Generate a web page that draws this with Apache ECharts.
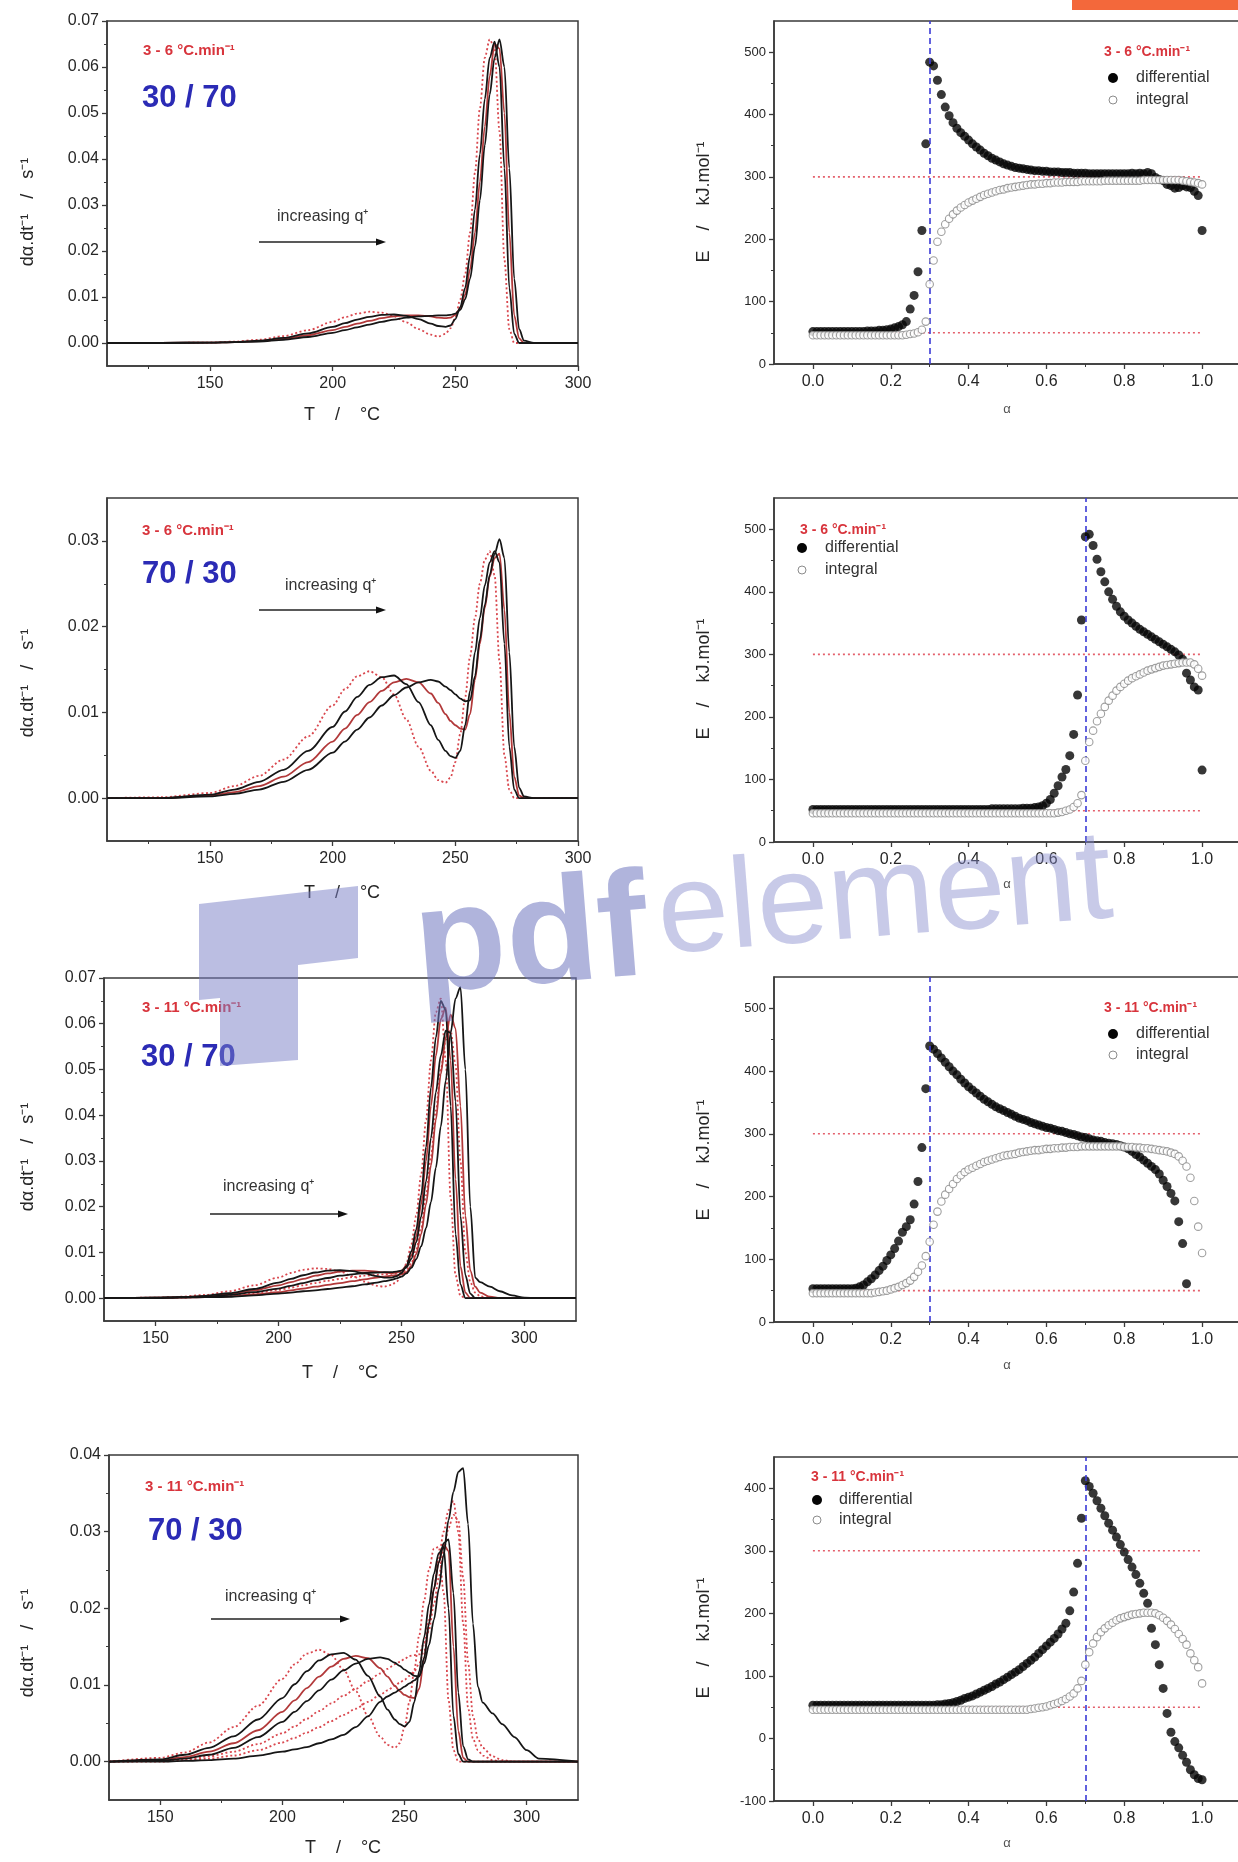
<!DOCTYPE html>
<html>
<head>
<meta charset="utf-8">
<title>DTG curves and activation energy</title>
<script src="https://cdn.jsdelivr.net/npm/echarts@6.0.0/dist/echarts.min.js"></script>
<style>
html,body{margin:0;padding:0;background:#ffffff;}
#chart{width:1238px;height:1862px;}
</style>
</head>
<body>
<div id="chart"></div>
<script>
// ================= DATA =================
// temperature sampling (°C) for the rate curves
const tempsA = [108,130,150,160,170,180,190,200,205,210,215,220,225,230,235,240,243,246,248,250,252,254,256,258,260,262,264,266,268,270,272,274,276,278,282,290,300];
const tempsB = [129,150,160,170,180,190,200,205,210,215,220,225,230,235,240,243,246,248,250,252,254,256,258,260,262,264,266,268,270,272,274,276,278,280,282,286,290,295,300,305,321];

// Panel 1 : 30/70, 3-6 °C/min  (dα/dt, s^-1)
const p1_q3 = [0,0,0.0001,0.0003,0.0007,0.0015,0.0028,0.0046,0.0056,0.0064,0.0068,0.0066,0.0058,0.0045,0.003,0.0018,0.0014,0.002,0.0032,0.0055,0.0095,0.015,0.024,0.037,0.051,0.062,0.066,0.064,0.046,0.018,0.003,0,0,0,0,0,0];
const p1_q4 = [0,0,0.0001,0.0002,0.0005,0.0011,0.0021,0.0035,0.0043,0.0051,0.0057,0.0061,0.0062,0.0059,0.0052,0.0042,0.0037,0.0035,0.0038,0.0052,0.0078,0.012,0.019,0.029,0.041,0.053,0.062,0.0655,0.06,0.038,0.012,0.002,0,0,0,0,0];
const p1_q5 = [0,0,0.0001,0.0002,0.0004,0.0009,0.0017,0.0028,0.0035,0.0042,0.0048,0.0054,0.0058,0.006,0.006,0.0058,0.0055,0.0054,0.0055,0.0061,0.0075,0.0105,0.016,0.024,0.035,0.047,0.058,0.065,0.064,0.05,0.024,0.006,0.001,0,0,0,0];
const p1_q6 = [0,0,0.0001,0.0002,0.0003,0.0007,0.0013,0.0022,0.0028,0.0034,0.004,0.0046,0.0051,0.0055,0.0058,0.0059,0.006,0.006,0.0061,0.0064,0.0072,0.0095,0.014,0.021,0.031,0.043,0.054,0.062,0.066,0.06,0.038,0.014,0.003,0.0005,0,0,0];

// Panel 2 : 70/30, 3-6 °C/min
const p2_q3 = [0,0.0001,0.0006,0.0014,0.0026,0.0045,0.0072,0.0108,0.0127,0.0142,0.0148,0.0141,0.0121,0.0092,0.006,0.0032,0.0021,0.0018,0.0024,0.0042,0.0075,0.0118,0.0165,0.021,0.025,0.0278,0.0288,0.026,0.016,0.005,0.001,0,0,0,0,0,0];
const p2_q4 = [0,0,0.0004,0.001,0.0019,0.0033,0.0055,0.0083,0.0101,0.0118,0.0132,0.0141,0.0143,0.0133,0.0112,0.0085,0.0068,0.0055,0.0049,0.0047,0.0055,0.0085,0.0125,0.017,0.021,0.0248,0.0275,0.0288,0.0275,0.018,0.006,0.001,0,0,0,0,0];
const p2_q5 = [0,0,0.0003,0.0007,0.0014,0.0025,0.0042,0.0066,0.0081,0.0097,0.0112,0.0125,0.0135,0.0139,0.0135,0.0122,0.0111,0.0098,0.009,0.0085,0.0081,0.008,0.0098,0.0138,0.018,0.0222,0.0258,0.028,0.0285,0.022,0.01,0.0025,0.0003,0,0,0,0];
const p2_q6 = [0,0,0.0002,0.0005,0.001,0.0019,0.0033,0.0053,0.0066,0.008,0.0094,0.0108,0.012,0.0129,0.0135,0.0138,0.0136,0.013,0.0126,0.0121,0.0116,0.0113,0.0114,0.0142,0.0185,0.0225,0.026,0.0285,0.0302,0.028,0.017,0.006,0.0012,0.0002,0,0,0];

// Panel 3 : 30/70, 3-11 °C/min
const p3_q3 = [0,0.0001,0.0003,0.0007,0.0015,0.0028,0.0045,0.0055,0.0062,0.0065,0.0064,0.0058,0.0048,0.0036,0.0027,0.0025,0.0029,0.0036,0.005,0.0075,0.0118,0.018,0.027,0.039,0.052,0.0625,0.0655,0.052,0.022,0.005,0.0005,0,0,0,0,0,0,0,0,0,0];
const p3_q4 = [0,0.0001,0.0002,0.0005,0.0011,0.002,0.0034,0.0042,0.005,0.0056,0.006,0.0061,0.0059,0.0054,0.0048,0.0045,0.0045,0.0048,0.0055,0.007,0.0102,0.015,0.0225,0.033,0.046,0.057,0.065,0.063,0.042,0.014,0.003,0,0,0,0,0,0,0,0,0,0];
const p3_q5 = [0,0.0001,0.0002,0.0004,0.0009,0.0017,0.0028,0.0035,0.0042,0.0049,0.0054,0.0058,0.006,0.006,0.0058,0.0056,0.0055,0.0056,0.006,0.0071,0.0093,0.0135,0.0205,0.03,0.042,0.053,0.061,0.0635,0.052,0.026,0.007,0.0012,0,0,0,0,0,0,0,0,0];
const p3_q6 = [0,0.0001,0.0002,0.0003,0.0007,0.0013,0.0021,0.0027,0.0033,0.0039,0.0044,0.0049,0.0052,0.0055,0.0056,0.0057,0.0057,0.0058,0.006,0.0067,0.0086,0.0122,0.0178,0.0255,0.035,0.045,0.053,0.0585,0.058,0.043,0.018,0.005,0.001,0,0,0,0,0,0,0,0];
const p3_q8 = [0,0,0.0001,0.0003,0.0006,0.0011,0.0018,0.0023,0.0028,0.0033,0.0038,0.0042,0.0046,0.0049,0.0051,0.0052,0.0053,0.0054,0.0056,0.0061,0.0076,0.0106,0.0155,0.0225,0.031,0.041,0.05,0.0565,0.0585,0.051,0.03,0.01,0.0035,0.0012,0.0004,0,0,0,0,0,0];
const p3_q10 = [0,0,0.0001,0.0002,0.0004,0.0008,0.0013,0.0017,0.0021,0.0025,0.0029,0.0033,0.0037,0.0041,0.0045,0.0047,0.0049,0.005,0.0052,0.0057,0.007,0.0096,0.014,0.0205,0.029,0.039,0.049,0.057,0.062,0.059,0.042,0.018,0.006,0.0025,0.0012,0.0003,0,0,0,0,0];
const p3_q11 = [0,0,0.0001,0.0002,0.0003,0.0006,0.001,0.0012,0.0015,0.0017,0.002,0.0023,0.0026,0.003,0.0034,0.0037,0.004,0.0043,0.0047,0.0054,0.0066,0.0085,0.0113,0.0153,0.021,0.0285,0.0375,0.0475,0.058,0.0655,0.068,0.05,0.02,0.0045,0.0035,0.0025,0.0015,0.0006,0.0001,0,0];

// Panel 4 : 70/30, 3-11 °C/min
const p4_q3 = [0,0.0005,0.0012,0.0025,0.0045,0.0073,0.0108,0.0127,0.0141,0.0146,0.0139,0.012,0.0092,0.006,0.0033,0.0022,0.0018,0.0024,0.0045,0.0078,0.012,0.0165,0.021,0.025,0.0278,0.028,0.022,0.008,0.0015,0,0,0,0,0,0,0,0,0,0,0,0];
const p4_q4 = [0,0.0003,0.0009,0.0018,0.0033,0.0055,0.0083,0.0101,0.0118,0.0132,0.014,0.0142,0.0133,0.0112,0.0085,0.0068,0.0055,0.0049,0.0046,0.0052,0.0078,0.0118,0.0162,0.0205,0.0245,0.0272,0.028,0.02,0.006,0.001,0,0,0,0,0,0,0,0,0,0,0];
const p4_q5 = [0,0.0002,0.0006,0.0013,0.0024,0.0041,0.0065,0.008,0.0096,0.0111,0.0124,0.0134,0.0138,0.0135,0.0122,0.0111,0.0099,0.0092,0.0087,0.0084,0.0083,0.0095,0.0135,0.018,0.0225,0.026,0.0283,0.0275,0.015,0.004,0.0005,0,0,0,0,0,0,0,0,0,0];
const p4_q6 = [0,0.0001,0.0004,0.0009,0.0018,0.0032,0.0052,0.0065,0.0079,0.0093,0.0107,0.0119,0.0128,0.0134,0.0136,0.0134,0.0129,0.0125,0.012,0.0116,0.0112,0.0111,0.0135,0.018,0.0225,0.026,0.0285,0.029,0.022,0.009,0.002,0.0003,0,0,0,0,0,0,0,0,0];
const p4_q8 = [0,0.0001,0.0003,0.0007,0.0013,0.0023,0.0037,0.0046,0.0056,0.0066,0.0076,0.0086,0.0095,0.0105,0.0115,0.0121,0.0127,0.013,0.0134,0.0138,0.0139,0.014,0.0155,0.0185,0.0225,0.0265,0.03,0.0328,0.034,0.03,0.018,0.007,0.003,0.0015,0.0008,0.0002,0,0,0,0,0];
const p4_q10 = [0,0,0.0002,0.0004,0.0008,0.0015,0.0025,0.0031,0.0038,0.0045,0.0053,0.0061,0.0069,0.0078,0.0087,0.0093,0.0099,0.0103,0.0107,0.0112,0.0118,0.0128,0.0145,0.0172,0.0205,0.024,0.0275,0.0305,0.0322,0.0315,0.024,0.013,0.006,0.003,0.0018,0.0007,0.0002,0,0,0,0];
const p4_q11 = [0,0,0.0001,0.0002,0.0004,0.0008,0.0013,0.0016,0.0019,0.0024,0.0029,0.0035,0.0045,0.0059,0.0078,0.0085,0.009,0.0094,0.0098,0.0102,0.0106,0.0112,0.0128,0.0152,0.0185,0.0225,0.027,0.0315,0.0352,0.0378,0.0383,0.031,0.018,0.0098,0.0077,0.0063,0.0049,0.0032,0.0015,0.0004,0];

// conversion grid α
const alpha = [0,0.01,0.02,0.03,0.04,0.05,0.06,0.07,0.08,0.09,0.1,0.11,0.12,0.13,0.14,0.15,0.16,0.17,0.18,0.19,0.2,0.21,0.22,0.23,0.24,0.25,0.26,0.27,0.28,0.29,0.3,0.31,0.32,0.33,0.34,0.35,0.36,0.37,0.38,0.39,0.4,0.41,0.42,0.43,0.44,0.45,0.46,0.47,0.48,0.49,0.5,0.51,0.52,0.53,0.54,0.55,0.56,0.57,0.58,0.59,0.6,0.61,0.62,0.63,0.64,0.65,0.66,0.67,0.68,0.69,0.7,0.71,0.72,0.73,0.74,0.75,0.76,0.77,0.78,0.79,0.8,0.81,0.82,0.83,0.84,0.85,0.86,0.87,0.88,0.89,0.9,0.91,0.92,0.93,0.94,0.95,0.96,0.97,0.98,0.99,1];

// E (kJ/mol) — panel 5 : 30/70, 3-6
const e5_diff = [52,52,52,52,52,52,52,52,52,52,52,52,52,52,53,53,53,54,54,55,56,58,60,63,68,88,110,148,214,353,484,478,455,432,412,398,387,378,371,365,359,353,348,343,338,334,330,327,324,321,319,317,315,314,313,312,311,310,310,309,309,308,308,308,307,307,307,306,306,306,306,305,305,305,305,305,305,305,305,305,305,305,306,305,306,305,307,305,299,296,294,288,286,282,283,286,284,283,277,270,214];
const e5_int = [46,46,46,46,46,46,46,46,46,46,46,46,46,46,46,46,46,46,46,46,46,46,46,46,47,48,49,51,55,68,128,166,196,212,224,233,240,246,251,255,259,262,265,268,271,273,275,277,279,280,282,283,284,285,286,287,288,288,289,289,290,290,291,291,291,292,292,292,292,293,293,293,293,293,293,294,294,294,294,294,294,294,294,294,294,295,295,295,295,295,295,295,295,295,295,294,293,292,291,290,288];
// panel 6 : 70/30, 3-6
const e6_diff = [52,52,52,52,52,52,52,52,52,52,52,52,52,52,52,52,52,52,52,52,52,52,52,52,52,52,52,52,52,52,52,52,52,52,52,52,52,52,52,52,52,52,52,52,52,52,53,53,53,53,53,53,53,53,54,54,54,55,56,58,62,68,78,90,104,116,138,172,235,355,488,492,474,452,432,416,400,388,377,368,361,355,350,345,340,336,332,328,324,320,316,312,308,304,299,292,270,259,248,243,115];
const e6_int = [46,46,46,46,46,46,46,46,46,46,46,46,46,46,46,46,46,46,46,46,46,46,46,46,46,46,46,46,46,46,46,46,46,46,46,46,46,46,46,46,46,46,46,46,46,46,46,46,46,46,46,46,46,46,46,46,46,46,46,46,46,46,46,47,48,50,52,56,62,75,130,160,178,193,205,216,226,234,242,248,253,258,262,265,268,271,274,276,278,280,282,283,284,285,286,287,287,287,284,277,266];
// panel 7 : 30/70, 3-11
const e7_diff = [53,53,53,53,53,53,53,53,53,53,53,54,56,59,64,69,75,82,89,98,107,117,129,143,152,163,188,224,278,372,440,435,428,421,414,407,400,394,387,381,375,370,365,360,355,351,347,343,340,337,334,331,328,325,323,321,318,316,314,312,310,309,307,305,304,302,300,299,297,295,294,292,290,289,288,286,285,284,283,281,279,276,272,267,263,258,253,248,243,236,226,216,205,193,160,125,61,null,null,null,null];
const e7_int = [46,46,46,46,46,46,46,46,46,46,46,46,46,46,46,46,47,48,49,50,52,54,56,59,62,66,72,80,90,105,128,155,176,192,203,212,220,228,234,239,243,246,249,252,255,257,259,261,263,265,266,267,268,270,271,272,273,274,274,275,276,276,277,277,278,278,279,279,279,280,280,280,280,280,280,280,280,280,280,280,279,279,279,278,278,277,277,276,275,274,273,272,270,268,264,257,248,230,193,152,110];
// panel 8 : 70/30, 3-11
const e8_diff = [53,53,53,53,53,53,53,53,53,53,53,53,53,53,53,53,53,53,53,53,53,53,53,53,53,53,53,53,53,53,53,53,54,54,55,56,57,59,61,64,66,68,71,74,77,80,83,87,90,94,98,102,106,110,115,120,125,130,136,142,148,154,160,167,175,184,204,234,280,352,412,403,392,380,368,356,344,333,322,310,298,286,274,262,248,232,216,176,150,118,80,40,10,-5,-15,-27,-38,-50,-58,-64,-66];
const e8_int = [46,46,46,46,46,46,46,46,46,46,46,46,46,46,46,46,46,46,46,46,46,46,46,46,46,46,46,46,46,46,46,46,46,46,46,46,46,46,46,46,46,46,46,46,46,46,46,46,46,46,46,46,46,46,46,46,47,48,49,50,51,53,55,57,60,63,67,72,80,92,118,138,152,162,170,176,181,185,189,192,194,196,198,199,200,201,201,201,200,197,193,188,182,175,167,159,150,136,125,114,88];

// reference levels and marker α
const refLevels = [300, 50];
const refSpan = [0, 1];
const vLineAlpha = [0.3, 0.7, 0.3, 0.7];

// tick labels
const tMajor = [150,200,250,300];
const tMinorA = [125,175,225,275];
const tMinorB = [175,225,275];
const rMajor7 = [0,0.01,0.02,0.03,0.04,0.05,0.06,0.07];
const rMinor7 = [0.005,0.015,0.025,0.035,0.045,0.055,0.065];
const rMajor3 = [0,0.01,0.02,0.03];
const rMinor3 = [0.005,0.015,0.025];
const rMajor4 = [0,0.01,0.02,0.03,0.04];
const rMinor4 = [0.005,0.015,0.025,0.035];
const aMajor = [0,0.2,0.4,0.6,0.8,1.0];
const aMinor = [0.1,0.3,0.5,0.7,0.9];
const eMajor = [0,100,200,300,400,500];
const eMinor = [50,150,250,350,450];
const eMajor8 = [-100,0,100,200,300,400];
const eMinor8 = [-50,50,150,250,350];

// ================= CHART =================
const FONT = '"Liberation Sans", Arial, Helvetica, sans-serif';
const AX = '#3a3a3a';
const STY = {
  k:  {color:'#161616', type:'solid'},
  r:  {color:'#b2393a', type:'solid'},
  rd: {color:'#d9474e', type:[2,2.5]}
};

const grids = [
  {left:107, top:21,   width:471, height:345},
  {left:107, top:498,  width:471, height:343},
  {left:104, top:978,  width:472, height:343},
  {left:109, top:1455, width:469, height:345},
  {left:774, top:21,   width:467, height:343},
  {left:774, top:498,  width:467, height:344},
  {left:774, top:977,  width:467, height:345},
  {left:774, top:1457, width:467, height:344}
].map(g => Object.assign({show:true, borderColor:AX, borderWidth:1.5, backgroundColor:'transparent', containLabel:false, outerBoundsMode:'none'}, g));

const f2 = v => v.toFixed(2);
const f1 = v => v.toFixed(1);
const f0 = v => String(Math.round(v));

const panelAxes = [
  {x:[108,300,tMajor,tMinorA,f0,16], y:[-0.005,0.07,rMajor7,rMinor7,f2,16]},
  {x:[108,300,tMajor,tMinorA,f0,16], y:[-0.005,0.035,rMajor3,rMinor3,f2,16]},
  {x:[129,321,tMajor,tMinorB,f0,16], y:[-0.005,0.07,rMajor7,rMinor7,f2,16]},
  {x:[129,321,tMajor,tMinorB,f0,16], y:[-0.005,0.04,rMajor4,rMinor4,f2,16]},
  {x:[-0.1,1.1,aMajor,aMinor,f1,16], y:[0,550,eMajor,eMinor,f0,13]},
  {x:[-0.1,1.1,aMajor,aMinor,f1,16], y:[0,550,eMajor,eMinor,f0,13]},
  {x:[-0.1,1.1,aMajor,aMinor,f1,16], y:[0,550,eMajor,eMinor,f0,13]},
  {x:[-0.1,1.1,aMajor,aMinor,f1,16], y:[-100,450,eMajor8,eMinor8,f0,13]}
];

function axisPair(dim, gi, spec) {
  const [lo, hi, major, minor, fmt, fs] = spec;
  const pos = dim === 'x' ? 'bottom' : 'left';
  return [{
    type:'value', gridIndex:gi, position:pos, min:lo, max:hi,
    axisLine:{show:true, onZero:false, lineStyle:{color:AX, width:1.5}},
    axisTick:{show:true, inside:false, length:5, customValues:major, lineStyle:{color:AX, width:1.3}},
    axisLabel:{show:true, customValues:major, formatter:fmt, fontSize:fs, color:'#262626', margin:(dim === 'x' ? 10 : 8), fontFamily:FONT},
    splitLine:{show:false}
  },{
    type:'value', gridIndex:gi, position:pos, min:lo, max:hi,
    axisLine:{show:false, onZero:false},
    axisTick:{show:true, inside:false, length:3, customValues:minor, lineStyle:{color:AX, width:1}},
    axisLabel:{show:false},
    splitLine:{show:false}
  }];
}

const xAxis = [], yAxis = [];
panelAxes.forEach((p, gi) => {
  xAxis.push(...axisPair('x', gi, p.x));
  yAxis.push(...axisPair('y', gi, p.y));
});

const series = [];
function addCurve(gi, temps, vals, sty) {
  series.push({
    type:'line', xAxisIndex:2*gi, yAxisIndex:2*gi,
    data: temps.map((t, i) => [t, vals[i]]),
    symbol:'none', showSymbol:false, smooth:0.3, smoothMonotone:'x', clip:true, silent:true,
    lineStyle:{color:STY[sty].color, width:1.8, type:STY[sty].type}, z:2
  });
}
// panel 1
addCurve(0, tempsA, p1_q3, 'rd'); addCurve(0, tempsA, p1_q5, 'r'); addCurve(0, tempsA, p1_q4, 'k'); addCurve(0, tempsA, p1_q6, 'k');
// panel 2
addCurve(1, tempsA, p2_q3, 'rd'); addCurve(1, tempsA, p2_q5, 'r'); addCurve(1, tempsA, p2_q4, 'k'); addCurve(1, tempsA, p2_q6, 'k');
// panel 3
addCurve(2, tempsB, p3_q3, 'rd'); addCurve(2, tempsB, p3_q8, 'rd'); addCurve(2, tempsB, p3_q5, 'r'); addCurve(2, tempsB, p3_q10, 'r');
addCurve(2, tempsB, p3_q4, 'k'); addCurve(2, tempsB, p3_q6, 'k'); addCurve(2, tempsB, p3_q11, 'k');
// panel 4
addCurve(3, tempsB, p4_q3, 'rd'); addCurve(3, tempsB, p4_q8, 'rd'); addCurve(3, tempsB, p4_q10, 'rd'); addCurve(3, tempsB, p4_q5, 'r');
addCurve(3, tempsB, p4_q4, 'k'); addCurve(3, tempsB, p4_q6, 'k'); addCurve(3, tempsB, p4_q11, 'k');

// right panels
const eSets = [[e5_diff, e5_int], [e6_diff, e6_int], [e7_diff, e7_int], [e8_diff, e8_int]];
eSets.forEach((set, k) => {
  const gi = 4 + k;
  refLevels.forEach(lv => {
    series.push({
      type:'line', xAxisIndex:2*gi, yAxisIndex:2*gi, silent:true,
      data: refSpan.map(a => [a, lv]), symbol:'none', showSymbol:false,
      lineStyle:{color:'#e4606c', width:1.6, type:[2,3]}, z:1
    });
  });
  const pts = arr => alpha.map((a, i) => arr[i] == null ? null : [a, arr[i]]).filter(Boolean);
  series.push({
    type:'scatter', name:'differential', xAxisIndex:2*gi, yAxisIndex:2*gi, silent:true,
    data: pts(set[0]), symbol:'circle', symbolSize:9,
    itemStyle:{color:'#050505'}, z:4
  });
  series.push({
    type:'scatter', name:'integral', xAxisIndex:2*gi, yAxisIndex:2*gi, silent:true,
    data: pts(set[1]), symbol:'circle', symbolSize:7.5,
    itemStyle:{color:'#ffffff', borderColor:'#878787', borderWidth:1.1}, z:5,
    markLine:{
      silent:true, symbol:['none','none'], label:{show:false},
      lineStyle:{color:'#3b3bd6', width:1.6, type:[6,4]},
      data:[{xAxis: vLineAlpha[k]}]
    }
  });
});

// ================= ANNOTATIONS =================
const graphic = [];
function txt(x, y, text, size, color, weight, align, rot) {
  graphic.push({
    type:'text', x:x, y:y, rotation: rot || 0, z:50, silent:true,
    style:{text:text, fill:color, fontSize:size, fontWeight:weight || 'normal', fontFamily:FONT,
      textAlign: align || 'left', align: align || 'left', textVerticalAlign:'middle', verticalAlign:'middle'}
  });
}
function arrow(x0, x1, y) {
  graphic.push({type:'line', z:50, silent:true, shape:{x1:x0, y1:y, x2:x1 - 6, y2:y}, style:{stroke:'#222', lineWidth:1.5}});
  graphic.push({type:'polygon', z:50, silent:true, shape:{points:[[x1, y],[x1 - 10, y - 3.5],[x1 - 10, y + 3.5]]}, style:{fill:'#111'}});
}

const leftNotes = [
  {rate:'3 - 6 °C.min⁻¹',  comp:'30 / 70', rx:143, ry:51,   bx:142, by:98,   ix:277, iy:217,  a0:259, a1:386, ay:242},
  {rate:'3 - 6 °C.min⁻¹',  comp:'70 / 30', rx:142, ry:531,  bx:142, by:574,  ix:285, iy:586,  a0:259, a1:386, ay:610},
  {rate:'3 - 11 °C.min⁻¹', comp:'30 / 70', rx:142, ry:1008, bx:141, by:1057, ix:223, iy:1187, a0:210, a1:348, ay:1214},
  {rate:'3 - 11 °C.min⁻¹', comp:'70 / 30', rx:145, ry:1487, bx:148, by:1531, ix:225, iy:1597, a0:211, a1:350, ay:1619}
];
leftNotes.forEach(n => {
  txt(n.rx, n.ry, n.rate, 15, '#d8343c', 'bold');
  txt(n.bx, n.by, n.comp, 31, '#2b2bb5', 'bold');
  txt(n.ix, n.iy, 'increasing q⁺', 16, '#333333');
  arrow(n.a0, n.a1, n.ay);
});

const rightNotes = [
  {rate:'3 - 6 °C.min⁻¹',  rx:1104, ry:52,   cx:1113, dy:78,   iy:100,  tx:1136},
  {rate:'3 - 6 °C.min⁻¹',  rx:800,  ry:530,  cx:802,  dy:548,  iy:570,  tx:825},
  {rate:'3 - 11 °C.min⁻¹', rx:1104, ry:1008, cx:1113, dy:1034, iy:1055, tx:1136},
  {rate:'3 - 11 °C.min⁻¹', rx:811,  ry:1477, cx:817,  dy:1500, iy:1520, tx:839}
];
rightNotes.forEach(n => {
  txt(n.rx, n.ry, n.rate, 14, '#d8343c', 'bold');
  graphic.push({type:'circle', z:50, silent:true, shape:{cx:n.cx, cy:n.dy, r:5}, style:{fill:'#050505'}});
  graphic.push({type:'circle', z:50, silent:true, shape:{cx:n.cx, cy:n.iy, r:4}, style:{fill:'#ffffff', stroke:'#8c8c8c', lineWidth:1}});
  txt(n.tx, n.dy, 'differential', 16, '#333333');
  txt(n.tx, n.iy, 'integral', 16, '#333333');
});

// axis titles
const leftYTitleY = [212, 683, 1157, 1643];
const leftXTitle = [[342, 415], [342, 893], [340, 1373], [343, 1848]];
const rightYTitleY = [202, 679, 1160, 1638];
const rightXTitleY = [409, 884, 1365, 1843];
leftYTitleY.forEach(y => txt(28, y, 'dα.dt⁻¹   /   s⁻¹', 18, '#262626', 'normal', 'center', Math.PI / 2));
leftXTitle.forEach(p => txt(p[0], p[1], 'T    /    °C', 18, '#262626', 'normal', 'center'));
rightYTitleY.forEach(y => txt(704, y, 'E    /    kJ.mol⁻¹', 18, '#262626', 'normal', 'center', Math.PI / 2));
rightXTitleY.forEach(y => txt(1007, y, 'α', 13, '#555555', 'normal', 'center'));

// page artefacts visible in the reference (viewer watermark and tab)
graphic.push({type:'rect', z:60, silent:true, shape:{x:1072, y:0, width:166, height:10}, style:{fill:'#f3683b'}});
graphic.push({type:'polygon', z:60, silent:true,
  shape:{points:[[199,904],[358,886],[358,958],[298,965],[298,1060],[220,1066],[220,998],[199,1000]]},
  style:{fill:'rgba(120,126,198,0.5)'}});
graphic.push({type:'text', z:60, silent:true, x:421, y:1026, rotation:0.08,
  style:{text:'pdf', fill:'rgba(112,118,192,0.55)', fontSize:150, fontWeight:'bold', fontFamily:FONT,
    textAlign:'left', align:'left', textVerticalAlign:'bottom', verticalAlign:'bottom'}});
graphic.push({type:'text', z:60, silent:true, x:663, y:982, rotation:0.08,
  style:{text:'element', fill:'rgba(132,138,204,0.45)', fontSize:128, fontWeight:'normal', fontFamily:FONT,
    textAlign:'left', align:'left', textVerticalAlign:'bottom', verticalAlign:'bottom'}});

const chart = echarts.init(document.getElementById('chart'), null, {renderer:'canvas', width:1238, height:1862});
chart.setOption({
  animation:false,
  backgroundColor:'#ffffff',
  textStyle:{fontFamily:FONT},
  grid:grids,
  xAxis:xAxis,
  yAxis:yAxis,
  series:series,
  graphic:{elements:graphic}
});
</script>
</body>
</html>
